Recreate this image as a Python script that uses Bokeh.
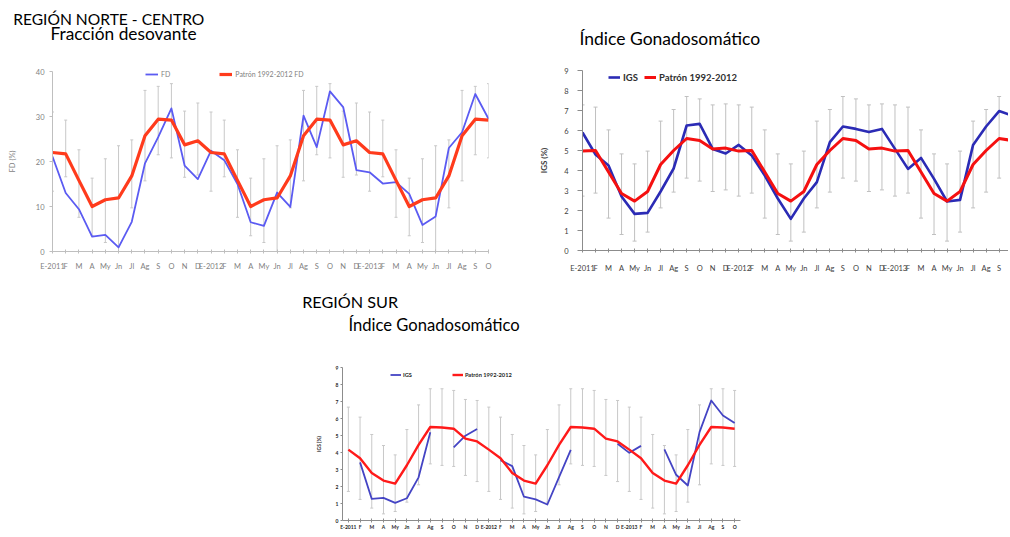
import numpy as np
from bokeh.plotting import figure
from bokeh.layouts import column, row
from bokeh.core.properties import value
from bokeh.models import (ColumnDataSource, FixedTicker, Legend, LegendItem,
                          Range1d, Spacer, TeeHead, Whisker)
from bokeh.embed import file_html
from bokeh.resources import INLINE

FONT = "Lato"

# Meses de enero 2011 a octubre 2013.
MESES = ["E-2011", "F", "M", "A", "My", "Jn", "Jl", "Ag", "S", "O", "N", "D",
         "E-2012", "F", "M", "A", "My", "Jn", "Jl", "Ag", "S", "O", "N", "D",
         "E-2013", "F", "M", "A", "My", "Jn", "Jl", "Ag", "S", "O"]

# Region norte - centro: fraccion desovante (%).
fd_mensual = [21.1, 13.0, 9.4, 3.3, 3.7, 0.9, 6.6, 19.6, 25.4, 31.8, 19.1, 16.1,
              22.4, 20.3, 15.0, 6.5, 5.7, 13.1, 9.9, 30.2, 23.2, 35.6, 32.1, 18.1,
              17.6, 15.1, 15.4, 12.8, 5.9, 7.8, 23.0, 26.5, 35.0, 29.5]
fd_patron = [22.0, 21.7, 15.8, 10.0, 11.5, 11.9, 16.8, 25.7, 29.4, 29.2, 23.7, 24.6,
             22.0, 21.7, 15.8, 10.0, 11.5, 11.9, 16.8, 25.7, 29.4, 29.2, 23.7, 24.6,
             22.0, 21.7, 15.8, 10.0, 11.5, 11.9, 16.8, 25.7, 29.4, 29.2]
fd_sup = [31.0, 29.2, 22.6, 16.3, 20.6, 23.5, 24.8, 35.8, 36.7, 37.3, 31.2, 33.0,
          31.0, 29.2, 22.6, 16.3, 20.6, 23.5, 24.8, 35.8, 36.7, 37.3, 31.2, 33.0,
          31.0, 29.2, 22.6, 16.3, 20.6, 23.5, 24.8, 35.8, 36.7, 37.3]
fd_inf = [13.4, 16.6, 7.6, 3.5, 2.0, 0.0, 9.7, 15.7, 21.5, 20.8, 16.5, 17.0,
          13.4, 16.6, 7.6, 3.5, 2.0, 0.0, 9.7, 15.7, 21.5, 20.8, 16.5, 17.0,
          13.4, 16.6, 7.6, 3.5, 2.0, 0.0, 9.7, 15.7, 21.5, 20.8]

# Region norte - centro: indice gonadosomatico (%).
igs_norte = [5.9, 4.8, 4.25, 2.7, 1.83, 1.88, 2.95, 4.1, 6.25, 6.33, 5.08, 4.85,
             5.28, 4.75, 3.75, 2.6, 1.58, 2.6, 3.42, 5.42, 6.2, 6.08, 5.92, 6.08,
             5.08, 4.08, 4.63, 3.58, 2.45, 2.53, 5.28, 6.2, 6.97, 6.75]
igs_norte_patron = [4.97, 5.0, 3.92, 2.85, 2.47, 2.95, 4.3, 5.0, 5.6, 5.5, 5.08, 5.12,
                    4.97, 5.0, 3.92, 2.85, 2.47, 2.95, 4.3, 5.0, 5.6, 5.5, 5.08, 5.12,
                    4.97, 5.0, 3.92, 2.85, 2.47, 2.95, 4.3, 5.0, 5.6, 5.5]
igs_norte_sup = [7.28, 7.17, 6.03, 4.83, 4.33, 4.97, 6.47, 7.05, 7.7, 7.58, 7.28, 7.33,
                 7.28, 7.17, 6.03, 4.83, 4.33, 4.97, 6.47, 7.05, 7.7, 7.58, 7.28, 7.33,
                 7.28, 7.17, 6.03, 4.83, 4.33, 4.97, 6.47, 7.05, 7.7, 7.58]
igs_norte_inf = [2.72, 2.87, 1.62, 0.8, 0.47, 0.92, 2.13, 2.92, 3.62, 3.47, 2.95, 3.03,
                 2.72, 2.87, 1.62, 0.8, 0.47, 0.92, 2.13, 2.92, 3.62, 3.47, 2.95, 3.03,
                 2.72, 2.87, 1.62, 0.8, 0.47, 0.92, 2.13, 2.92, 3.62, 3.47]

# Region sur: indice gonadosomatico (%), None = sin muestreo.
igs_sur = [None, 3.42, 1.27, 1.33, 1.04, 1.31, 2.54, 5.19, None, 4.3, 4.99, 5.38,
           None, 3.55, 3.2, 1.4, 1.24, 0.94, 2.55, 4.16, None, None, None, 4.51,
           3.98, 4.39, None, 4.18, 2.69, 2.06, 5.2, 7.06, 6.18, 5.73]
igs_sur_patron = [4.17, 3.66, 2.8, 2.35, 2.17, 3.25, 4.45, 5.5, 5.47, 5.4, 4.82, 4.65,
                  4.17, 3.66, 2.8, 2.35, 2.17, 3.25, 4.45, 5.5, 5.47, 5.4, 4.82, 4.65,
                  4.17, 3.66, 2.8, 2.35, 2.17, 3.25, 4.45, 5.5, 5.47, 5.4]
igs_sur_sup = [6.67, 6.08, 5.06, 4.41, 3.86, 5.35, 6.8, 7.75, 7.75, 7.65, 7.12, 7.06,
               6.67, 6.08, 5.06, 4.41, 3.86, 5.35, 6.8, 7.75, 7.75, 7.65, 7.12, 7.06,
               6.67, 6.08, 5.06, 4.41, 3.86, 5.35, 6.8, 7.75, 7.75, 7.65]
igs_sur_inf = [1.71, 1.24, 0.73, 0.39, 0.53, 1.08, 2.1, 3.33, 3.24, 3.18, 2.65, 2.29,
               1.71, 1.24, 0.73, 0.39, 0.53, 1.08, 2.1, 3.33, 3.24, 3.18, 2.65, 2.29,
               1.71, 1.24, 0.73, 0.39, 0.53, 1.08, 2.1, 3.33, 3.24, 3.18]

X = list(range(len(MESES)))


def base_figure(width, height, x_range, y_end, borders):
    left, right, top, bottom = borders
    p = figure(width=width, height=height, x_range=x_range, y_range=Range1d(0, y_end),
               output_backend="svg", toolbar_location=None, frame_align=False,
               min_border_left=left, min_border_right=right,
               min_border_top=top, min_border_bottom=bottom)
    p.outline_line_color = None
    p.grid.visible = False
    return p


def title_strip(width, height, lines):
    # Pixel coordinates: y grows downwards, like the page.
    t = figure(width=width, height=height, x_range=Range1d(0, width),
               y_range=Range1d(height, 0), output_backend="svg",
               toolbar_location=None, frame_align=False, min_border=0,
               min_border_left=0, min_border_right=0,
               min_border_top=0, min_border_bottom=0,
               x_axis_location=None, y_axis_location=None)
    t.outline_line_color = None
    t.grid.visible = False
    for x, y, text, size in lines:
        t.text(x=[x], y=[y], text=[text], text_font=value(FONT),
               text_font_size=size, text_color="black", text_baseline="alphabetic")
    return t


def style_axes(p, y_ticks, ylabel, size, color, axis_color, bold,
               x_standoff, y_standoff, label_standoff, ylabel_size, y_tick_out):
    style = "bold" if bold else "normal"
    p.xaxis.ticker = FixedTicker(ticks=X)
    p.xaxis.major_label_overrides = {i: m for i, m in enumerate(MESES)}
    p.yaxis.ticker = FixedTicker(ticks=y_ticks)
    p.yaxis.axis_label = ylabel
    for ax in (p.xaxis, p.yaxis):
        ax.axis_line_color = axis_color
        ax.major_tick_line_color = axis_color
        ax.minor_tick_line_color = None
        ax.major_label_text_font = FONT
        ax.major_label_text_font_size = size
        ax.major_label_text_color = color
        ax.major_label_text_font_style = style
    p.xaxis.major_tick_in = 2
    p.xaxis.major_tick_out = 2
    p.yaxis.major_tick_in = 0
    p.yaxis.major_tick_out = y_tick_out
    p.xaxis.major_label_standoff = x_standoff
    p.yaxis.major_label_standoff = y_standoff
    p.yaxis.axis_label_standoff = label_standoff
    p.yaxis.axis_label_text_font = FONT
    p.yaxis.axis_label_text_font_size = ylabel_size
    p.yaxis.axis_label_text_font_style = style
    p.yaxis.axis_label_text_color = color


def error_bars(p, sup, inf, color, cap):
    src = ColumnDataSource(data=dict(x=X, sup=sup, inf=inf))
    p.add_layout(Whisker(base="x", upper="sup", lower="inf", source=src, level="underlay",
                         line_color=color, line_width=1,
                         upper_head=TeeHead(size=cap, line_color=color, line_width=1),
                         lower_head=TeeHead(size=cap, line_color=color, line_width=1)))


def add_legend(p, items, loc, spacing, glyph_w, h, size, color, bold, standoff):
    p.add_layout(Legend(
        items=[LegendItem(label=lab, renderers=[r]) for lab, r in items],
        orientation="horizontal", location=loc, padding=0, margin=0, spacing=spacing,
        glyph_width=glyph_w, glyph_height=h, label_height=h, label_width=0,
        label_standoff=standoff, label_text_font=FONT, label_text_font_size=size,
        label_text_color=color, label_text_font_style="bold" if bold else "normal",
        border_line_color=None, background_fill_alpha=0))


# Region norte - centro, fraccion desovante.
t1 = title_strip(518, 55, [(12.7, 18, "REGIÓN NORTE - CENTRO", "15.6px"),
                           (50, 33, "Fracción desovante", "17.3px")])
p1 = base_figure(518, 230, Range1d(0, 33), 40, (52, 30, 16, 34))
style_axes(p1, [0, 10, 20, 30, 40], "FD (%)", "7.5px", "#7f7f7f", "#bfbfbf", False,
           8, 5, 16, "7.5px", 3)
error_bars(p1, fd_sup, fd_inf, "#c8c8c8", 3)
r1a = p1.line(X, fd_mensual, line_color="#5b5bf2", line_width=1.8, line_join="round")
r1b = p1.line(X, fd_patron, line_color="#ff3b1c", line_width=3.2, line_join="round")
add_legend(p1, [("FD", r1a), ("Patrón 1992-2012 FD", r1b)], (93, 172), 49, 13, 10,
           "7px", "#7f7f7f", False, 3)

# Region norte - centro, IGS.
t2 = title_strip(490, 55, [(61, 38, "Índice Gonadosomático", "17.5px")])
p2 = base_figure(490, 230, Range1d(0, 32.72), 9, (64, 0, 15, 35))
style_axes(p2, list(range(10)), "IGS (%)", "7.5px", "#404040", "#8c8c8c", False,
           11, 9, 12, "8px", 5)
p2.yaxis.axis_label_text_font_style = "bold"
error_bars(p2, igs_norte_sup, igs_norte_inf, "#c0c0c0", 4)
r2a = p2.line(X, igs_norte, line_color="#2b2bb5", line_width=2.6, line_join="round")
r2b = p2.line(X, igs_norte_patron, line_color="#f51010", line_width=3.0, line_join="round")
add_legend(p2, [("IGS", r2a), ("Patrón 1992-2012", r2b)], (26, 167), 6, 12, 12,
           "9.5px", "#303030", True, 3)

# Region sur, IGS.
t3 = title_strip(462, 62, [(3.7, 15.7, "REGIÓN SUR", "16.2px"),
                           (50, 39.7, "Índice Gonadosomático", "16.6px")])
p3 = base_figure(462, 189, Range1d(-0.5, 33.5), 9, (44, 20, 20, 16))
style_axes(p3, list(range(10)), "IGS (%)", "5px", "#262626", "#8c8c8c", True,
           1, 2, 11, "5px", 2)
error_bars(p3, igs_sur_sup, igs_sur_inf, "#c8c8c8", 3)
r3a = p3.line(X, np.array(igs_sur, dtype=float), line_color="#4444c4", line_width=1.8,
              line_join="round")
r3b = p3.line(X, igs_sur_patron, line_color="#ff1a1a", line_width=2.4, line_join="round")
add_legend(p3, [("IGS", r3a), ("Patrón 1992-2012", r3b)], (48, 142), 40, 11, 7,
           "5.7px", "#262626", True, 2)

layout = column(row(column(t1, p1), column(t2, p2)),
                row(Spacer(width=298, height=251), column(t3, p3)))

open("out.html", "w").write(file_html(layout, INLINE))
